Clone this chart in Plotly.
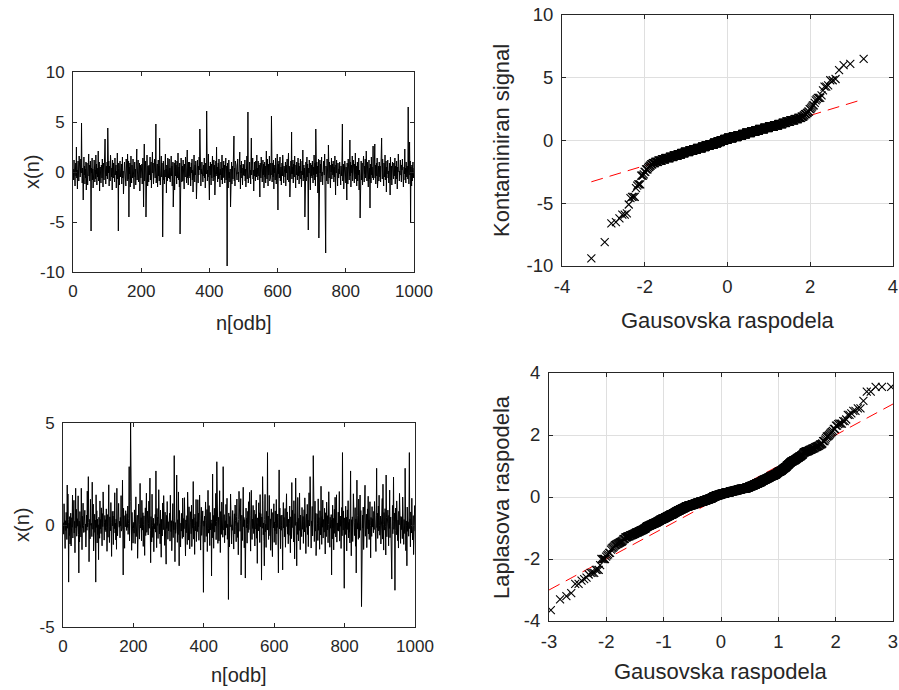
import numpy as np
import plotly.graph_objects as go
from statistics import NormalDist

# ---------------- data (values read / estimated from the reference) ----------------
# Contaminated Gaussian signal x(n), n = 1..1000 (rows of 20 samples)
SIG_CONTAMINATED = [
 0.3,-0.8,1.2,-0.2,0.6,-1.4,0.1,0.9,-0.4,2.5,-0.6,0.2,-1.7,0.4,1.1,-0.1,-0.9,1.6,-0.3,0.7,
 -0.5,0.2,1.3,-0.1,4.9,0.8,-1.1,0.4,-0.7,-2.8,0.0,1.5,-0.3,0.6,-1.2,0.3,-0.6,1.0,-1.8,0.1,
 0.9,-0.2,-1.3,0.5,0.1,1.8,-0.4,0.7,-0.9,0.2,1.1,-0.5,-5.9,0.4,-0.1,1.4,-0.8,0.3,-1.6,0.6,
 -0.3,1.2,0.6,-1.0,0.2,-0.7,1.7,-0.2,0.8,-1.3,0.4,-0.5,0.1,2.1,-0.9,-0.4,1.0,-1.9,0.3,0.5,
 0.1,-1.1,0.7,0.4,-0.6,1.3,-0.2,-1.5,0.9,0.2,-0.8,1.6,-0.3,3.3,0.5,-1.2,0.0,0.6,-0.4,1.0,
 -0.7,4.4,0.3,-0.1,1.1,-1.4,0.6,0.2,-0.9,1.7,-0.3,0.8,-0.5,0.4,-1.8,1.2,0.0,-0.6,0.9,-0.2,
 0.5,-1.0,1.4,-0.3,0.2,0.7,-1.6,0.1,-0.4,1.9,-0.7,0.3,-5.9,0.9,-0.2,-1.3,0.6,1.1,-0.5,0.0,
 -0.4,0.8,-1.2,0.3,1.5,-0.6,0.1,-2.2,0.7,-0.1,1.0,0.4,-0.8,0.2,-1.4,1.3,-0.3,0.6,-0.9,1.8,
 0.2,-0.7,1.1,-4.5,0.5,-0.2,0.9,-1.5,0.4,1.6,-0.4,-1.1,0.7,0.1,-0.6,1.3,-0.3,0.8,-1.7,0.3,
 1.0,-0.5,0.3,-1.3,0.6,0.0,2.3,-0.8,0.2,-0.2,1.2,-1.0,0.5,-0.4,0.9,-1.9,0.4,0.7,-0.6,-0.1,
 -0.3,0.8,-1.2,0.4,1.4,-0.6,-3.5,0.1,2.8,-0.9,0.5,-0.2,1.1,-4.5,0.3,-0.7,1.7,0.0,-1.4,0.6,
 0.4,-1.0,0.7,0.2,-0.3,1.5,-0.8,0.1,1.0,-1.6,0.6,-0.4,2.0,-0.1,0.9,-1.2,0.3,-0.6,1.3,-0.2,
 -0.6,0.3,4.8,-1.1,0.5,-0.2,0.8,-1.5,0.1,1.2,-0.4,0.6,-0.9,3.4,0.2,-1.3,0.7,0.0,1.6,-0.5,
 0.9,-0.3,-6.5,0.5,1.1,-0.8,0.2,-1.2,0.6,-0.1,1.8,-0.5,0.3,-2.1,0.7,0.0,-0.9,1.4,0.4,-0.6,
 0.1,1.3,-0.7,0.4,-1.0,0.8,-0.2,1.6,-0.4,0.6,-1.4,0.2,1.0,-3.5,-0.5,0.3,0.9,-1.8,0.0,1.2,
 -0.4,0.7,0.2,-1.2,1.1,-0.6,0.4,1.9,-0.1,-0.8,0.5,-1.5,0.9,-6.2,0.3,-0.3,1.4,0.6,-1.0,0.1,
 0.6,-0.9,1.2,-0.2,0.3,-1.7,0.8,0.1,-0.5,1.5,-0.3,0.4,-1.1,0.7,2.2,-0.6,0.0,-1.3,1.0,-0.4,
 -0.2,1.0,-0.6,0.5,-1.4,0.3,0.9,-0.1,1.3,-0.8,0.2,-2.0,0.6,-0.4,1.7,0.1,-1.0,0.7,-0.3,1.1,
 0.4,-2.7,0.8,-0.5,1.2,0.0,-1.1,0.6,-0.3,1.5,0.2,4.3,-0.7,0.9,-1.4,0.3,-0.2,1.0,-0.8,0.5,
 -1.0,0.3,0.7,-0.4,1.4,-0.6,0.1,-1.6,0.9,0.5,-0.2,6.1,1.1,-0.9,0.2,-0.5,1.8,0.0,-1.2,-2.8,
 0.6,-0.3,1.0,0.2,-1.3,0.8,-0.6,0.4,1.6,-0.1,-0.9,0.3,1.2,-0.5,0.7,-2.3,0.1,-0.7,1.1,-0.2,
 2.5,-0.4,0.5,-1.0,0.2,0.9,-0.7,1.3,-0.1,0.6,-1.5,0.3,-0.3,1.0,-0.8,0.0,1.7,-1.2,0.4,-0.6,
 0.2,1.1,-0.5,0.7,-1.1,0.4,-0.2,1.4,-0.8,0.1,0.6,-9.4,0.9,-0.3,-1.6,0.5,1.2,-0.6,0.0,-1.0,
 0.3,-3.5,0.8,-0.4,1.0,-1.2,0.2,0.6,-0.7,1.5,-0.1,3.6,-0.9,0.4,-1.4,1.1,-0.3,0.7,0.1,-0.5,
 -0.8,0.5,1.3,-0.2,0.0,-1.0,0.9,-0.5,2.0,0.3,-1.7,0.7,-0.1,1.1,-0.6,0.4,-1.3,0.2,0.8,-0.3,
 0.7,-0.4,0.1,1.2,-0.9,0.3,-1.5,0.6,-0.2,1.6,-0.7,0.4,6.0,-1.1,0.9,-0.3,0.0,1.0,-0.6,0.2,
 -1.2,0.5,3.4,-0.3,0.8,-0.1,1.4,-0.7,0.2,-1.9,0.6,1.0,-0.4,0.3,-0.9,1.1,0.1,-0.5,1.7,-0.2,
 0.4,-0.8,1.1,0.0,-0.4,0.7,-1.3,-2.5,0.9,0.2,-0.6,1.5,-0.1,0.5,-1.0,0.3,1.2,-0.3,0.8,-1.6,
 0.1,1.0,-0.5,0.6,-1.1,0.3,2.1,-0.2,-0.7,1.3,0.4,-1.4,0.8,-0.3,0.0,1.6,-0.9,0.2,-0.6,0.9,
 -0.3,5.6,0.6,-1.0,0.2,0.9,-0.5,1.2,-1.7,0.4,-0.1,0.7,-0.8,1.4,0.1,-1.2,0.5,-0.4,1.8,-0.6,
 -3.8,0.8,-0.2,1.1,-0.6,0.3,1.5,-0.9,0.0,0.5,-1.3,0.2,0.9,-0.4,1.7,-0.7,0.4,-1.1,0.6,-0.1,
 0.2,-0.5,1.0,-1.4,0.7,-0.1,0.4,1.3,-0.8,0.1,-0.3,1.9,-1.0,0.6,0.3,-2.5,0.9,-0.6,1.1,-0.2,
 4.0,-0.7,0.5,-0.2,1.2,-1.1,0.8,0.0,-0.5,1.6,-0.9,0.3,-1.6,0.7,-0.3,1.0,0.2,-0.8,0.4,1.4,
 -0.4,0.9,-1.2,0.3,0.6,-0.1,1.3,-0.7,0.1,-1.5,0.5,1.1,-0.3,2.2,-0.9,0.0,0.7,-0.6,0.4,-4.5,
 0.6,-0.2,1.0,-0.9,0.2,1.5,-0.5,0.8,-1.3,-5.8,0.4,-0.1,1.2,-0.7,0.3,-1.8,0.9,0.1,-0.4,0.7,
 -0.6,1.1,0.2,-1.1,0.5,-0.3,1.7,0.0,-0.8,0.9,-1.4,4.3,0.4,-0.2,1.0,-0.5,0.6,-2.1,0.3,1.3,
 -6.6,0.4,-0.6,1.2,-0.1,0.8,-1.0,0.3,1.5,-0.4,0.0,-1.3,0.7,-0.8,1.1,0.2,-0.3,1.8,-0.9,0.5,
 -8.1,0.6,0.1,-0.9,1.3,-0.4,0.9,-1.2,2.7,0.3,-0.6,1.0,-0.2,0.5,-1.6,0.7,0.0,1.4,-0.7,0.2,
 0.8,-0.3,1.1,0.2,-1.0,0.5,-0.5,1.6,0.1,-2.3,0.7,-0.1,1.2,-0.8,0.4,-1.4,0.9,0.0,-0.6,0.3,
 -0.2,1.0,-0.7,0.4,-1.3,0.6,0.1,-0.4,1.5,4.8,-0.9,0.3,0.8,-1.7,0.2,-0.5,1.1,0.7,-0.1,-1.1,
 0.5,-0.6,-2.8,0.9,0.2,-1.2,1.3,-0.3,0.6,-0.8,0.0,3.2,-0.4,1.0,-1.5,0.3,0.7,-0.1,1.6,-0.9,
 0.1,1.2,-0.5,0.4,-1.1,0.8,-0.2,1.9,-0.7,0.3,0.6,-1.4,0.0,1.0,-0.9,0.5,-0.3,1.4,-1.8,0.2,
 -0.4,-4.6,0.7,-0.1,1.1,-0.8,0.3,0.9,-1.3,0.5,-0.5,1.6,0.2,-1.0,0.6,-0.2,1.3,-0.6,0.0,2.1,
 0.3,-0.9,1.0,-0.4,0.6,-1.5,0.2,1.2,-0.7,0.4,-3.6,0.8,-0.1,-1.1,1.5,-0.3,0.5,0.0,-0.6,2.6,
 -0.8,0.4,-0.2,1.1,2.8,-0.6,0.7,-1.2,0.1,0.9,-0.4,1.4,-1.6,0.3,-0.1,0.6,-0.9,1.0,0.2,-0.5,
 0.6,-1.0,0.2,-0.3,3.4,0.8,-0.7,1.3,-0.1,0.4,-1.4,0.9,0.0,-0.5,1.7,-0.8,0.3,1.1,-2.0,0.5,
 -0.2,0.7,1.2,-0.6,0.1,-1.1,0.5,0.9,-0.4,-2.3,1.5,0.3,-0.8,0.6,-1.3,0.0,1.0,-0.3,0.4,-0.7,
 0.9,-0.4,0.2,1.4,-1.2,0.6,-0.1,-0.7,1.1,0.3,-1.7,0.5,0.0,1.8,-0.5,0.8,-0.9,0.1,-0.3,1.2,
 -0.6,0.3,-1.0,0.7,0.2,1.3,-0.4,0.9,-1.5,0.0,0.5,-0.2,2.3,-0.8,0.4,-1.1,1.0,0.1,-0.5,0.6,
 0.2,-0.7,6.5,0.4,-1.2,0.8,3.0,-0.3,1.1,-5.1,0.5,0.0,-1.4,0.7,-0.9,0.3,1.0,-0.6,0.1,0.4,
]

# Laplace-distributed signal x(n), n = 1..1000 (rows of 20 samples)
SIG_LAPLACE = [
 0.12,-0.45,1.04,-0.08,0.33,-1.15,0.21,-0.27,0.62,0.04,-0.71,1.96,-0.16,1.52,0.26,-2.80,0.09,-0.52,0.41,-0.93,
 -0.22,0.58,-1.03,0.15,0.36,-0.11,1.47,-0.64,0.07,-0.29,1.21,-0.39,0.18,-1.36,0.02,1.80,-0.14,0.77,-0.55,0.25,
 0.31,-0.06,1.43,-0.48,-2.35,0.19,-0.83,0.66,-0.24,0.10,-0.59,1.80,0.27,-1.21,0.43,-0.13,1.07,-0.02,-0.37,0.16,
 -0.17,0.72,-0.34,0.05,-1.08,0.23,0.49,-0.26,1.66,-0.09,0.61,2.37,0.13,-1.80,-0.44,0.28,-0.68,1.26,-0.01,0.20,
 0.08,-0.57,2.10,0.34,-0.21,1.02,-1.27,0.16,-0.03,0.53,-0.36,0.24,-2.80,1.48,-0.12,0.70,-0.88,0.29,-0.47,0.01,
 -1.70,0.38,0.11,-0.65,1.18,-0.19,0.27,-0.42,0.84,0.03,-1.02,0.56,-0.08,1.62,-0.30,0.22,-0.74,0.14,0.47,-0.25,
 0.26,-0.33,0.79,-0.14,-1.29,0.06,0.51,-0.60,0.18,1.97,-0.07,-0.86,0.40,0.23,-0.28,1.10,-0.50,-1.54,0.12,0.67,
 -0.04,0.44,-0.96,0.21,0.68,-0.18,1.58,-0.39,0.09,-0.73,0.29,-1.19,1.80,0.15,-0.53,0.35,-0.24,1.06,0.02,-0.11,
 0.19,-0.63,0.37,-0.05,1.44,-0.30,0.58,-0.16,2.20,0.11,-2.45,0.82,-0.41,0.25,-1.14,0.46,-0.09,0.70,0.28,-0.22,
 -0.27,0.55,-0.12,0.93,-0.46,0.07,0.31,2.86,-0.78,0.20,1.16,5.00,-0.35,0.14,-1.24,0.62,-0.01,0.42,-0.89,-0.18,
 0.13,-0.40,0.74,-0.21,-0.91,0.05,1.38,-0.57,0.24,-0.10,0.48,-1.63,0.17,-0.31,1.03,0.29,-0.69,0.02,2.04,-0.15,
 -0.08,0.36,-0.77,1.21,0.19,-0.25,0.60,-1.05,0.03,0.45,-0.14,-1.49,0.27,0.84,-0.52,0.10,1.56,-0.36,-0.20,0.68,
 0.22,-0.49,0.09,1.17,-0.16,0.64,2.30,-0.28,-1.85,0.41,0.14,-0.83,1.51,-0.04,-0.61,0.26,0.33,-1.31,0.07,-0.19,
 -0.13,0.52,-0.35,2.65,0.18,-1.11,0.81,-0.02,0.39,-0.66,0.25,1.73,-0.21,-0.44,0.06,-0.92,0.73,0.12,-1.58,0.28,
 0.04,-0.54,1.08,0.20,-0.23,1.44,-0.37,0.11,-1.00,0.63,-0.07,0.30,-1.92,0.47,-0.17,1.15,0.24,-0.70,0.16,-0.29,
 0.27,-0.14,0.58,-0.79,1.46,0.08,-0.33,0.21,-1.26,0.44,-0.05,1.05,-0.62,0.17,-0.24,3.40,0.36,-1.80,0.12,-0.41,
 -0.20,0.49,2.45,0.03,-0.85,0.26,-0.47,1.62,0.15,-2.00,0.71,-0.11,0.34,-1.08,0.09,-0.30,0.57,0.22,-0.66,1.32,
 0.10,-0.59,0.32,-0.18,1.34,-0.04,0.77,-1.52,0.25,-0.38,0.13,0.46,-0.96,1.61,-0.26,0.05,-0.74,0.89,0.19,-1.17,
 -0.23,0.65,0.14,-0.43,0.97,-1.06,0.07,0.28,-0.15,2.13,-0.69,0.36,-0.02,-1.44,0.53,0.21,-0.29,1.25,-0.81,0.11,
 0.16,-0.32,1.24,-0.09,0.58,-0.75,0.24,1.47,-0.19,0.40,-1.23,0.03,0.87,-0.51,0.29,-0.12,0.69,-0.94,-3.30,0.20,
 -0.06,0.43,-0.84,0.22,1.13,-0.27,-0.56,0.10,0.76,-1.30,0.31,1.70,-0.17,-0.40,0.95,0.05,-1.01,0.62,-0.24,0.18,
 0.25,-2.50,0.08,-0.63,2.50,-0.21,0.47,-1.14,0.13,0.82,-0.35,0.27,-0.04,1.55,-0.72,0.16,3.10,-0.29,0.54,-0.90,
 -0.11,0.38,-0.78,0.19,1.68,-0.02,-1.35,0.66,0.24,-0.46,1.12,-0.16,0.33,-0.60,2.86,0.07,-0.25,0.51,-0.87,0.14,
 0.21,-0.50,1.01,-0.13,0.36,1.31,-0.70,0.04,-0.28,-3.65,0.59,0.17,-1.07,0.42,-0.09,1.52,-0.34,0.26,-0.93,0.01,
 -0.26,0.71,-0.15,0.30,-1.18,0.09,0.55,-0.44,0.98,0.23,-0.06,-0.82,0.40,1.27,-0.19,-0.61,0.12,-1.46,0.28,1.65,
 0.07,0.64,-0.31,0.19,1.29,-2.45,-0.22,0.48,0.15,-0.76,0.91,1.85,-0.08,0.37,-1.12,0.26,-0.55,-2.60,0.11,0.83,
 -0.14,0.34,-0.89,0.02,0.67,-0.37,1.14,-0.23,0.20,1.60,-0.58,0.13,-1.28,0.45,1.70,-0.05,-0.71,0.29,-0.17,0.96,
 0.18,-0.42,0.73,-0.10,-1.03,0.27,0.52,-0.20,1.22,-0.65,0.06,-1.88,0.35,0.14,-0.29,1.09,-0.04,0.60,-0.86,1.49,
 -0.09,0.56,0.23,-2.70,0.39,-0.16,2.37,1.19,-0.48,0.10,-0.80,-2.00,0.28,1.50,-0.33,0.04,-1.10,0.67,0.21,-0.24,
 3.55,-0.25,0.44,-0.71,0.13,1.45,-0.07,-0.53,0.30,-1.24,0.18,0.79,-0.38,0.02,-1.55,0.61,0.26,-0.14,1.04,-0.85,
 0.15,-0.28,0.69,0.08,-0.97,1.25,-0.43,0.22,-0.12,0.54,-0.66,-2.35,0.35,2.70,-0.19,0.83,0.04,-1.16,0.47,-0.26,
 -0.03,0.49,-0.74,-2.20,0.27,1.10,-0.15,0.37,-0.58,0.12,0.81,-1.09,0.20,-0.31,1.53,-0.08,0.64,-0.45,0.25,-0.92,
 0.29,-0.51,0.06,0.93,-0.24,-1.36,0.40,0.17,-0.67,2.08,-0.13,0.72,-0.36,0.11,-0.83,1.19,0.23,-1.66,0.55,-0.02,
 2.30,-0.18,0.62,-2.00,0.14,-0.46,1.35,0.03,-0.78,0.33,-0.27,1.57,0.21,-1.21,0.49,-0.09,0.26,-0.57,0.86,0.10,
 -0.21,0.42,-0.90,0.16,0.75,-0.34,1.33,0.07,-0.62,-1.40,0.29,0.53,-0.12,1.01,-0.47,0.24,-1.06,0.35,1.58,-0.05,
 0.12,2.37,-0.39,0.68,-1.13,0.20,-0.06,0.91,-0.54,0.27,3.40,-0.22,0.44,-0.81,0.05,1.17,-0.30,0.58,-1.50,0.16,
 -0.17,0.55,0.09,-0.76,1.28,-0.26,0.36,-0.03,-1.19,0.70,0.22,-0.49,1.90,0.14,-0.95,0.41,-0.11,1.22,-0.64,0.27,
 0.24,-0.35,0.82,-0.08,-1.42,0.60,0.13,-0.57,1.12,0.19,-0.24,0.46,-0.87,0.02,1.63,-0.73,0.30,-1.09,0.38,-0.16,
 0.06,0.51,-2.45,0.25,-0.68,0.97,-0.13,0.33,-1.22,0.18,0.77,-0.41,1.36,-0.04,-0.59,0.21,1.48,-0.84,0.10,-0.27,
 -0.12,0.63,-0.30,0.15,1.64,-0.79,0.27,-0.06,0.44,-1.15,0.22,0.86,-0.53,3.55,0.09,-0.25,0.69,-0.98,-3.10,0.35,
 0.20,-0.47,0.92,-0.17,0.38,-1.27,0.04,0.74,-0.22,1.19,-0.63,0.13,-0.36,0.28,-0.88,0.57,2.65,-0.09,-1.51,0.26,
 -0.07,0.40,-0.81,0.19,1.53,-0.29,0.66,-0.52,0.11,0.85,-1.04,0.30,-2.35,-0.14,2.20,0.48,-0.20,0.07,-0.70,1.27,
 0.16,-0.62,0.34,1.47,-0.26,0.71,-0.05,-4.00,0.23,-0.91,0.49,-0.15,0.88,-1.20,0.29,-0.38,0.10,1.95,-0.55,0.02,
 -0.28,0.53,-1.11,0.08,0.79,-0.19,1.41,-0.44,0.25,-0.71,0.14,1.14,-0.03,-1.61,0.37,0.21,-0.56,0.90,-0.10,0.31,
 0.09,-0.38,0.67,-0.22,1.15,0.27,-0.84,0.05,-1.30,0.46,2.78,-0.13,0.58,-0.66,0.18,0.93,-0.29,1.46,-0.01,-0.50,
 -0.16,0.44,-0.93,0.26,-0.40,0.12,1.30,-0.69,2.00,0.03,-1.23,0.61,0.20,-0.25,0.80,-0.08,-1.47,2.45,0.35,-0.58,
 0.22,-0.31,0.73,0.06,-1.02,0.47,-0.17,1.71,-0.62,0.14,0.39,-0.84,0.28,-2.65,-0.09,0.96,-0.43,0.18,2.35,-0.21,
 0.05,0.59,-3.20,-0.26,0.83,0.15,-0.48,1.18,-0.11,0.32,-0.77,0.24,-1.13,0.67,0.01,1.55,-0.36,0.19,-0.90,0.42,
 -0.23,0.38,0.11,-0.67,1.37,-0.14,0.52,-0.95,0.27,0.06,-0.42,2.78,0.73,-1.26,0.20,-0.04,-2.00,0.88,-0.31,0.16,
 0.13,-0.55,0.84,3.55,-0.18,0.30,-1.07,0.64,0.22,-0.39,1.31,-0.07,-0.73,0.17,0.46,-1.45,0.26,-0.12,0.95,-0.30,
]

# tick values / labels
T_X_TICKS = [0, 200, 400, 600, 800, 1000]
TL_Y_TICKS = [-10, -5, 0, 5, 10]
BL_Y_TICKS = [-5, 0, 5]
TR_X_TICKS = [-4, -2, 0, 2, 4]
TR_Y_TICKS = [-10, -5, 0, 5, 10]
BR_X_TICKS = [-3, -2, -1, 0, 1, 2, 3]
BR_Y_TICKS = [-4, -2, 0, 2, 4]

X_LABEL_TIME = "n[odb]"
Y_LABEL_TIME = "x(n)"
X_LABEL_QQ = "Gausovska raspodela"
Y_LABEL_TR = "Kontaminiran signal"
Y_LABEL_BR = "Laplasova raspodela"

# ---------------- helpers ----------------
W, H = 899, 690
FONT = "Liberation Sans, Arial, Helvetica, sans-serif"
TXT = "#262626"


def qq(data):
    """Sorted data vs. standard-normal quantiles, plus the y = x reference line."""
    y = np.sort(np.asarray(data, dtype=float))
    n = len(y)
    nd = NormalDist()
    z = np.array([nd.inv_cdf((i - 0.5) / n) for i in range(1, n + 1)])
    lx = np.array([z.min(), z.max()])
    return z, y, lx, lx.copy()


def dom_x(a, b):
    return [a / W, b / W]


def dom_y(top, bottom):
    return [1 - bottom / H, 1 - top / H]


def axis(domain, anchor, rng, ticks, size, grid):
    return dict(domain=domain, anchor=anchor, range=rng, automargin=False,
                tickmode="array", tickvals=ticks, ticktext=[str(t) for t in ticks],
                showline=True, linecolor=TXT, linewidth=1, mirror="ticks",
                ticks="inside", ticklen=4, tickwidth=1, tickcolor=TXT,
                tickfont=dict(family=FONT, size=size, color=TXT),
                showgrid=grid, gridcolor="#dfdfdf", gridwidth=1,
                zeroline=False, ticklabelstandoff=4)


fig = go.Figure()

n1 = np.arange(1, len(SIG_CONTAMINATED) + 1)
n2 = np.arange(1, len(SIG_LAPLACE) + 1)

# top-left time signal
fig.add_trace(go.Scatter(x=n1, y=SIG_CONTAMINATED, mode="lines",
                         line=dict(color="black", width=1), xaxis="x", yaxis="y"))
# bottom-left time signal
fig.add_trace(go.Scatter(x=n2, y=SIG_LAPLACE, mode="lines",
                         line=dict(color="black", width=1), xaxis="x3", yaxis="y3"))

mk = dict(symbol="x-thin", size=8, color="black", line=dict(width=1.1, color="black"))
for data, xa, ya in [(SIG_CONTAMINATED, "x2", "y2"), (SIG_LAPLACE, "x4", "y4")]:
    z, ys, lx, ly = qq(data)
    fig.add_trace(go.Scatter(x=lx, y=ly, mode="lines",
                             line=dict(color="#ff0000", width=1, dash="12px,7px"),
                             xaxis=xa, yaxis=ya))
    fig.add_trace(go.Scatter(x=z, y=ys, mode="markers", marker=mk, xaxis=xa, yaxis=ya))

fig.update_layout(
    width=W, height=H, margin=dict(l=0, r=0, t=0, b=0, autoexpand=False),
    paper_bgcolor="white", plot_bgcolor="white", showlegend=False,
    xaxis=axis(dom_x(73, 414), "y", [0, 1000], T_X_TICKS, 17, False),
    yaxis=axis(dom_y(72, 272), "x", [-10, 10], TL_Y_TICKS, 17, False),
    xaxis2=axis(dom_x(562, 893), "y2", [-4, 4], TR_X_TICKS, 18.5, True),
    yaxis2=axis(dom_y(15, 266), "x2", [-10, 10], TR_Y_TICKS, 18.5, True),
    xaxis3=axis(dom_x(63, 415), "y3", [0, 1000], T_X_TICKS, 17, False),
    yaxis3=axis(dom_y(423, 627), "x3", [-5, 5], BL_Y_TICKS, 17, False),
    xaxis4=axis(dom_x(549, 893), "y4", [-3, 3], BR_X_TICKS, 18.5, True),
    yaxis4=axis(dom_y(373, 621), "x4", [-4, 4], BR_Y_TICKS, 18.5, True),
)


def label(text, px, py, size, angle=0):
    fig.add_annotation(text=text, x=px / W, y=1 - py / H, xref="paper", yref="paper",
                       xanchor="center", yanchor="middle", showarrow=False,
                       textangle=angle, font=dict(family=FONT, size=size, color=TXT))


label(X_LABEL_TIME, 243.5, 323, 20)
label(Y_LABEL_TIME, 32, 172, 20, -90)
label(X_LABEL_TIME, 239, 675, 20)
label(Y_LABEL_TIME, 22, 525, 20, -90)
label(X_LABEL_QQ, 727.5, 320, 22)
label(Y_LABEL_TR, 501, 141, 22, -90)
label(X_LABEL_QQ, 721, 671, 22)
label(Y_LABEL_BR, 501, 497, 22, -90)

# remove the default 8px page margin so the figure sits at the window's top-left corner
fig.write_html("out.html",
               config={"displayModeBar": False},
               post_script="document.body.style.margin='0';document.body.style.overflow='hidden';")
